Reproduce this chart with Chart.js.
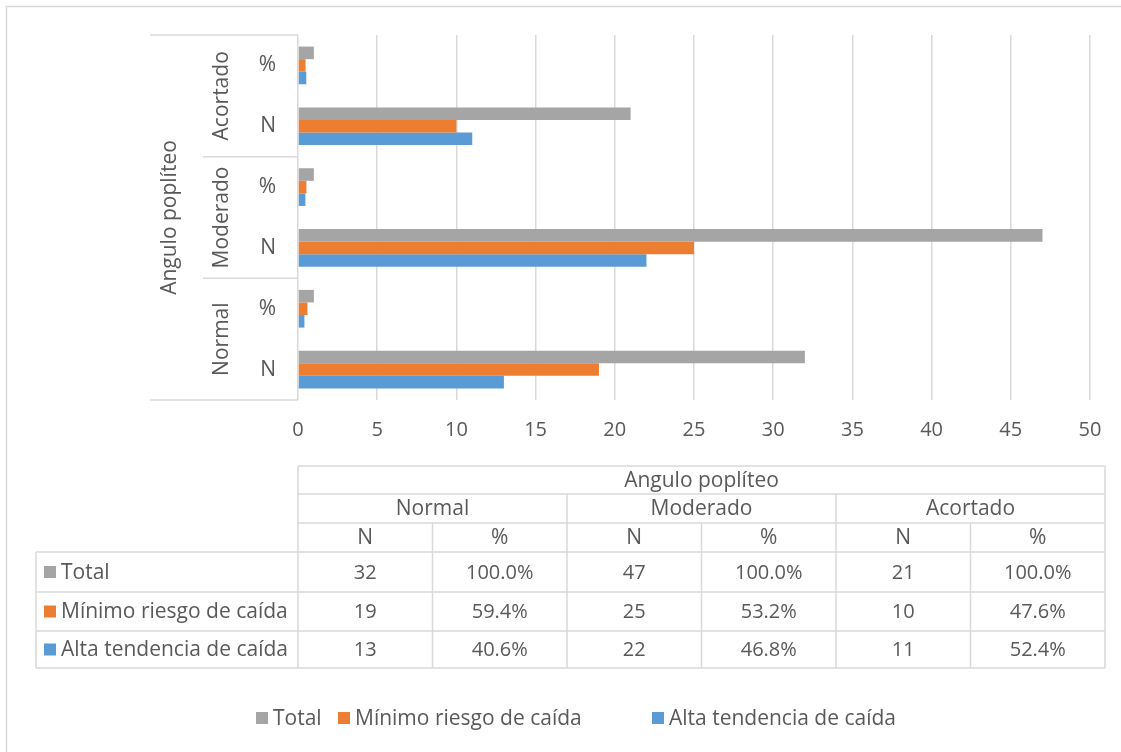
<!DOCTYPE html>
<html>
<head>
<meta charset="utf-8">
<script src="https://cdn.jsdelivr.net/npm/chart.js@4.4.1/dist/chart.umd.min.js"></script>
<style>
  html, body { margin: 0; padding: 0; background: #ffffff; }
  #wrap { width: 1121px; height: 752px; position: relative; }
</style>
</head>
<body>
<div id="wrap"><canvas id="c" width="1121" height="752"></canvas></div>
<script>
// ---- data ----
const axisTitle = 'Angulo poplíteo';
const groups = ['Normal', 'Moderado', 'Acortado'];
const measures = ['N', '%'];
const seriesNames = ['Total', 'Mínimo riesgo de caída', 'Alta tendencia de caída'];
const seriesColors = ['#a5a5a5', '#ed7d31', '#5b9bd5'];
const totalN = [32, 47, 21];
const minimoN = [19, 25, 10];
const altaN = [13, 22, 11];
const totalPct = [100.0, 100.0, 100.0];
const minimoPct = [59.4, 53.2, 47.6];
const altaPct = [40.6, 46.8, 52.4];
const xTicks = [0, 5, 10, 15, 20, 25, 30, 35, 40, 45, 50];

// ---- styling ----
const FONT = '"Open Sans", Lato, sans-serif';
const TEXT = '#595959';
const LINE = '#d9d9d9';
const FS = 21;       // labels, table and legend
const FS_TICK = 20;  // numeric axis

// rows of the category axis, listed from top to bottom
const rows = [];
for (let g = groups.length - 1; g >= 0; g--) {
  rows.push({ group: g, measure: 1 });
  rows.push({ group: g, measure: 0 });
}
const nSeries = [totalN, minimoN, altaN];
const pctSeries = [totalPct, minimoPct, altaPct];
const rowValue = (s, r) => r.measure === 0 ? nSeries[s][r.group] : pctSeries[s][r.group] / 100;

const datasets = seriesNames.map((name, s) => ({
  label: name,
  data: rows.map(r => rowValue(s, r)),
  backgroundColor: seriesColors[s],
  borderWidth: 0,
  categoryPercentage: 0.62,
  barPercentage: 1.0
}));

const fmtPct = v => v.toFixed(1) + '%';

// hierarchical category labels, data table and legend
const decorations = {
  id: 'decorations',
  afterDraw(chart) {
    const ctx = chart.ctx;
    const area = chart.chartArea;
    const y = chart.scales.y;
    ctx.save();

    // outer frame
    ctx.strokeStyle = LINE;
    ctx.lineWidth = 1.5;
    ctx.strokeRect(6.5, 6.5, 1130, 760);

    // category axis: group boxes
    const half = (y.getPixelForValue(1) - y.getPixelForValue(0)) / 2;
    const outerLeft = 150, groupLeft = 203;
    ctx.beginPath();
    ctx.moveTo(outerLeft, area.top); ctx.lineTo(area.left, area.top);
    ctx.moveTo(outerLeft, area.bottom); ctx.lineTo(area.left, area.bottom);
    for (let i = 2; i < rows.length; i += 2) {
      const yy = y.getPixelForValue(i) - half;
      ctx.moveTo(groupLeft, yy); ctx.lineTo(area.left, yy);
    }
    ctx.stroke();

    ctx.fillStyle = TEXT;
    ctx.font = FS + 'px ' + FONT;
    ctx.textAlign = 'center';
    ctx.textBaseline = 'middle';
    for (let i = 0; i < rows.length; i += 2) {
      const cy = (y.getPixelForValue(i) + y.getPixelForValue(i + 1)) / 2;
      ctx.save();
      ctx.translate(222, cy);
      ctx.rotate(-Math.PI / 2);
      ctx.fillText(groups[rows[i].group], 0, 0);
      ctx.restore();
    }
    ctx.save();
    ctx.translate(170, (area.top + area.bottom) / 2);
    ctx.rotate(-Math.PI / 2);
    ctx.fillText(axisTitle, 0, 0);
    ctx.restore();

    // data table
    const tL = area.left, tR = 1105, labL = 36;
    const colW = (tR - tL) / (groups.length * measures.length);
    const hy = [466, 494, 523, 552];
    const dy = [552, 592, 631, 668];
    ctx.beginPath();
    ctx.moveTo(tL, hy[0]); ctx.lineTo(tR, hy[0]);
    ctx.moveTo(tL, hy[1]); ctx.lineTo(tR, hy[1]);
    ctx.moveTo(tL, hy[2]); ctx.lineTo(tR, hy[2]);
    for (let r = 0; r < dy.length; r++) { ctx.moveTo(labL, dy[r]); ctx.lineTo(tR, dy[r]); }
    ctx.moveTo(labL, dy[0]); ctx.lineTo(labL, dy[3]);
    ctx.moveTo(tL, hy[0]); ctx.lineTo(tL, dy[3]);
    ctx.moveTo(tR, hy[0]); ctx.lineTo(tR, dy[3]);
    for (let c = 1; c < groups.length * measures.length; c++) {
      const xx = tL + c * colW;
      ctx.moveTo(xx, c % 2 === 0 ? hy[1] : hy[2]); ctx.lineTo(xx, dy[3]);
    }
    ctx.stroke();

    ctx.fillStyle = TEXT;
    ctx.textAlign = 'center';
    ctx.fillText(axisTitle, (tL + tR) / 2, (hy[0] + hy[1]) / 2 + 1);
    groups.forEach((g, gi) => {
      ctx.fillText(g, tL + (gi * 2 + 1) * colW, (hy[1] + hy[2]) / 2 + 1);
      measures.forEach((m, mi) => {
        ctx.fillText(m, tL + (gi * 2 + mi + 0.5) * colW, (hy[2] + hy[3]) / 2 + 1);
      });
    });
    ctx.font = FS_TICK + 'px ' + FONT;
    seriesNames.forEach((name, s) => {
      const cy = (dy[s] + dy[s + 1]) / 2 + 1;
      groups.forEach((g, gi) => {
        ctx.fillText(String(nSeries[s][gi]), tL + (gi * 2 + 0.5) * colW, cy);
        ctx.fillText(fmtPct(pctSeries[s][gi]), tL + (gi * 2 + 1.5) * colW, cy);
      });
    });
    ctx.font = FS + 'px ' + FONT;
    ctx.textAlign = 'left';
    seriesNames.forEach((name, s) => {
      const cy = (dy[s] + dy[s + 1]) / 2;
      ctx.fillStyle = seriesColors[s];
      ctx.fillRect(44, cy - 6, 12, 12);
      ctx.fillStyle = TEXT;
      ctx.fillText(name, 61, cy + 1);
    });

    // legend
    const ly = 718;
    const legendX = [256, 338, 652];
    seriesNames.forEach((name, s) => {
      ctx.fillStyle = seriesColors[s];
      ctx.fillRect(legendX[s], ly - 6, 12, 12);
      ctx.fillStyle = TEXT;
      ctx.fillText(name, legendX[s] + 17, ly + 1);
    });

    ctx.restore();
  }
};

new Chart(document.getElementById('c'), {
  type: 'bar',
  data: { labels: rows.map(r => measures[r.measure]), datasets },
  options: {
    indexAxis: 'y',
    responsive: false,
    animation: false,
    devicePixelRatio: 1,
    layout: { padding: { left: 0, right: 31, top: 35, bottom: 0 } },
    plugins: { legend: { display: false }, tooltip: { enabled: false } },
    scales: {
      x: {
        min: 0, max: 50,
        afterBuildTicks: sc => { sc.ticks = xTicks.map(v => ({ value: v })); },
        afterFit: sc => { sc.height = 352; },
        grid: { color: LINE, lineWidth: 1.5, drawTicks: false },
        border: { display: false },
        ticks: { color: TEXT, font: { family: FONT, size: FS_TICK }, padding: 18, maxRotation: 0 }
      },
      y: {
        afterFit: sc => { sc.width = 298; },
        grid: { display: false, drawTicks: false },
        border: { display: false },
        ticks: { color: TEXT, font: { family: FONT, size: FS }, padding: 22 }
      }
    }
  },
  plugins: [decorations]
});
</script>
</body>
</html>
